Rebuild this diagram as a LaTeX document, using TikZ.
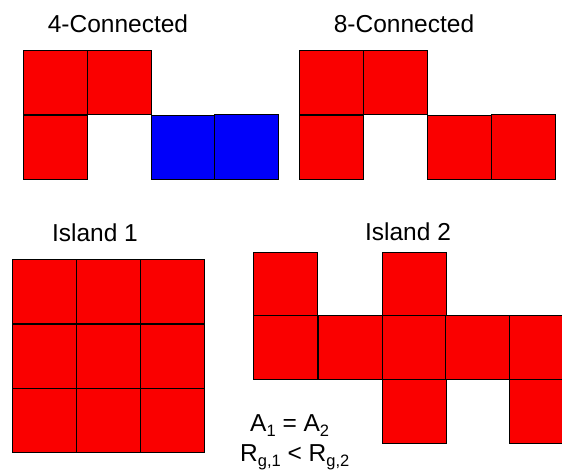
\documentclass[tikz,border=0pt]{standalone}
\usepackage{fontspec}
\setmainfont{Liberation Sans}
\definecolor{cellred}{HTML}{FA0000}
\definecolor{cellblue}{HTML}{0000FA}
\newcommand{\mysub}[1]{\raisebox{-0.24em}{\fontsize{16.5}{18}\selectfont #1}}
\begin{document}
\begin{tikzpicture}[x=1pt,y=-1pt,
  cell/.style={draw=black,fill=cellred,line width=0.9pt,minimum width=64pt,minimum height=64pt,inner sep=0pt,anchor=north west},
  bcell/.style={cell,fill=cellblue},
  lbl/.style={font=\fontsize{24.5}{29}\selectfont,inner sep=0pt}]
\useasboundingbox (0,0) rectangle (562,470);
\clip (0,0) rectangle (562,470);
% titles
\node[lbl] (t4) at (118,24) {4-Connected};
\node[lbl] (t8) at (404,24) {8-Connected};
\node[lbl] (ti1) at (95,233) {Island 1};
\node[lbl] (ti2) at (408,232) {Island 2};
% 4-connected
\node[cell] (a1) at (23,50) {};
\node[cell] (a2) at (87,50) {};
\node[cell] (a3) at (23,115) {};
\node[bcell] (a4) at (151,115) {};
\node[bcell,minimum height=65pt] (a5) at (214,114) {};
% 8-connected
\node[cell] (b1) at (299,50) {};
\node[cell] (b2) at (363,50) {};
\node[cell] (b3) at (299,115) {};
\node[cell] (b4) at (427,115) {};
\node[cell,minimum height=65pt] (b5) at (491,114) {};
% Island 1
\node[cell] (c11) at (12,259) {};
\node[cell] (c12) at (76,259) {};
\node[cell] (c13) at (140,259) {};
\node[cell] (c21) at (12,324) {};
\node[cell] (c22) at (76,324) {};
\node[cell] (c23) at (140,324) {};
\node[cell] (c31) at (12,388) {};
\node[cell] (c32) at (76,388) {};
\node[cell] (c33) at (140,388) {};
% Island 2
\node[cell] (d11) at (253,252) {};
\node[cell] (d13) at (382,252) {};
\node[cell] (d21) at (253,315) {};
\node[cell] (d22) at (318,315) {};
\node[cell] (d23) at (382,315) {};
\node[cell] (d24) at (445,315) {};
\node[cell] (d25) at (509,315) {};
\node[cell] (d33) at (382,379) {};
\node[cell] (d35) at (509,379) {};
% equations
\node[lbl,anchor=base west] (eq1) at (250,431) {A\mysub{1} = A\mysub{2}};
\node[lbl,anchor=base west] (eq2) at (240,461) {R\mysub{g,1} < R\mysub{g,2}};
\end{tikzpicture}
\end{document}
